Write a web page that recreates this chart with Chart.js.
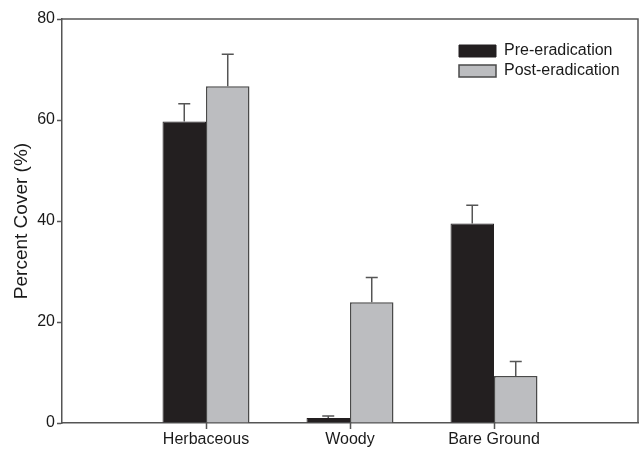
<!DOCTYPE html>
<html>
<head>
<meta charset="utf-8">
<script src="https://cdn.jsdelivr.net/npm/chart.js@4"></script>
<style>
  html, body { margin: 0; padding: 0; background: #ffffff; }
  #wrap { width: 641px; height: 449px; }
</style>
</head>
<body>
<div id="wrap"><canvas id="c" width="641" height="449"></canvas></div>
<script>
// ---- data ----
const categories = ['Herbaceous', 'Woody', 'Bare Ground'];
const seriesNames = ['Pre-eradication', 'Post-eradication'];
const preValues = [59.7, 1.0, 39.5];
const postValues = [66.7, 23.9, 9.3];
const preErrors = [3.5, 0.4, 3.6];
const postErrors = [6.3, 4.9, 2.9];
const yTicks = [0, 20, 40, 60, 80];

// padded slots so the categories sit at 1/4, 2/4, 3/4 of the axis
const labels = [''].concat(categories, ['']);
const pad = arr => [null].concat(arr, [null]);
const errs = [pad(preErrors), pad(postErrors)];

const AXIS = '#555555';
const TEXT = '#1a1a1a';
const FONT = "'Liberation Sans', Arial, Helvetica, sans-serif";

const errorBars = {
  id: 'errorBars',
  afterDatasetsDraw(chart) {
    const ctx = chart.ctx;
    const ys = chart.scales.y;
    ctx.save();
    ctx.strokeStyle = '#555555';
    ctx.lineWidth = 1.5;
    chart.data.datasets.forEach((ds, di) => {
      const meta = chart.getDatasetMeta(di);
      meta.data.forEach((bar, i) => {
        const v = ds.data[i];
        const e = errs[di][i];
        if (v == null || e == null) return;
        const x = bar.x;
        const yTop = ys.getPixelForValue(v + e);
        const yBase = ys.getPixelForValue(v);
        ctx.beginPath();
        ctx.moveTo(x, yBase);
        ctx.lineTo(x, yTop);
        ctx.moveTo(x - 6, yTop);
        ctx.lineTo(x + 6, yTop);
        ctx.stroke();
      });
    });
    ctx.restore();
  }
};

const frame = {
  id: 'frame',
  afterDraw(chart) {
    const a = chart.chartArea;
    const ctx = chart.ctx;
    const xs = chart.scales.x;
    ctx.save();
    ctx.strokeStyle = AXIS;
    ctx.lineWidth = 1.5;
    ctx.beginPath();
    ctx.moveTo(a.left, a.top);
    ctx.lineTo(a.right, a.top);
    ctx.lineTo(a.right, a.bottom);
    ctx.stroke();
    // category tick marks below the x axis
    ctx.beginPath();
    for (let i = 1; i <= categories.length; i++) {
      const px = Math.round(xs.getPixelForValue(i)) + 0.5;
      ctx.moveTo(px, a.bottom);
      ctx.lineTo(px, a.bottom + 6);
    }
    ctx.stroke();
    ctx.restore();
  }
};

const placeLegend = {
  id: 'placeLegend',
  afterLayout(chart) {
    const lg = chart.legend;
    if (!lg) return;
    const w = lg.width;
    lg.left = 455; lg.right = 455 + w;
    lg.top = 39; lg.bottom = 39 + 60; lg.height = 60;
  }
};

new Chart(document.getElementById('c'), {
  type: 'bar',
  data: {
    labels: labels,
    datasets: [
      {
        label: seriesNames[0],
        data: pad(preValues),
        backgroundColor: '#231f20',
        borderColor: '#231f20',
        borderWidth: 1
      },
      {
        label: seriesNames[1],
        data: pad(postValues),
        backgroundColor: '#bcbdc0',
        borderColor: '#4a4a4a',
        borderWidth: 1.5
      }
    ]
  },
  options: {
    responsive: false,
    animation: false,
    devicePixelRatio: 1,
    layout: { padding: { top: 19, right: 3, left: 0, bottom: 0 } },
    datasets: { bar: { categoryPercentage: 0.604, barPercentage: 1.0, grouped: true } },
    plugins: {
      legend: {
        display: true,
        position: 'chartArea',
        align: 'start',
        labels: {
          boxWidth: 37,
          boxHeight: 12,
          padding: 4,
          color: TEXT,
          font: { family: FONT, size: 16 }
        }
      },
      tooltip: { enabled: false }
    },
    scales: {
      x: {
        type: 'category',
        offset: false,
        grid: {
          display: false,
          drawOnChartArea: false,
          drawTicks: false
        },
        border: { display: true, color: AXIS, width: 1.5 },
        ticks: {
          color: TEXT,
          font: { family: FONT, size: 16 },
          padding: 7,
          maxRotation: 0,
          autoSkip: false
        },
        afterFit: s => { s.height = 26; s.paddingLeft = 0; s.paddingRight = 0; }
      },
      y: {
        min: 0,
        max: 80,
        afterBuildTicks: s => { s.ticks = yTicks.map(v => ({ value: v })); },
        grid: {
          display: true,
          drawOnChartArea: false,
          drawTicks: true,
          tickLength: 5,
          tickColor: AXIS,
          tickWidth: 1.5
        },
        border: { display: true, color: AXIS, width: 1.5 },
        ticks: {
          color: TEXT,
          font: { family: FONT, size: 16 },
          padding: 2
        },
        title: {
          display: true,
          text: 'Percent Cover (%)',
          color: TEXT,
          font: { family: FONT, size: 19 },
          padding: { top: 10, bottom: 0 }
        },
        afterFit: s => { s.width = 62; }
      }
    }
  },
  plugins: [errorBars, frame, placeLegend]
});
</script>
</body>
</html>
